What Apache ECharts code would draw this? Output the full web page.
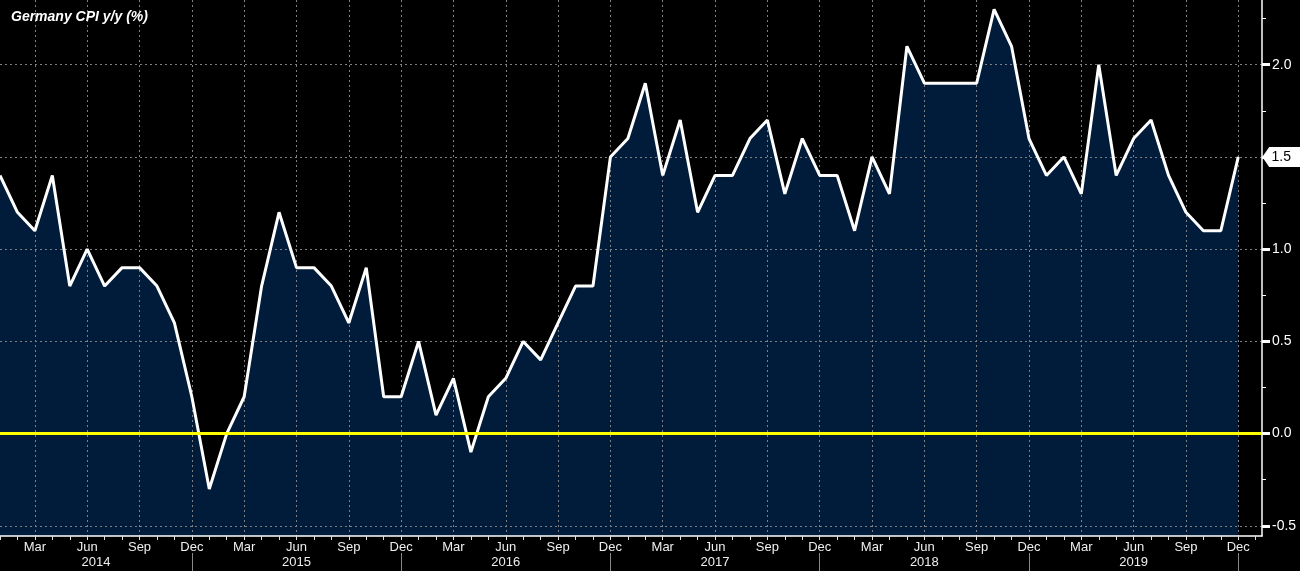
<!DOCTYPE html>
<html>
<head>
<meta charset="utf-8">
<script src="https://cdn.jsdelivr.net/npm/echarts@6/dist/echarts.min.js"></script>
<style>
  html, body { margin: 0; padding: 0; background: #000; }
  #chart { width: 1300px; height: 571px; }
</style>
</head>
<body>
<div id="chart"></div>
<script>
// monthly Germany CPI y/y (%), Jan..Dec for each year
const cpi2014 = [1.4, 1.2, 1.1, 1.4, 0.8, 1.0, 0.8, 0.9, 0.9, 0.8, 0.6, 0.2];
const cpi2015 = [-0.3, 0.0, 0.2, 0.8, 1.2, 0.9, 0.9, 0.8, 0.6, 0.9, 0.2, 0.2];
const cpi2016 = [0.5, 0.1, 0.3, -0.1, 0.2, 0.3, 0.5, 0.4, 0.6, 0.8, 0.8, 1.5];
const cpi2017 = [1.6, 1.9, 1.4, 1.7, 1.2, 1.4, 1.4, 1.6, 1.7, 1.3, 1.6, 1.4];
const cpi2018 = [1.4, 1.1, 1.5, 1.3, 2.1, 1.9, 1.9, 1.9, 1.9, 2.3, 2.1, 1.6];
const cpi2019 = [1.4, 1.5, 1.3, 2.0, 1.4, 1.6, 1.7, 1.4, 1.2, 1.1, 1.1, 1.5];

const years = ['2014', '2015', '2016', '2017', '2018', '2019'];
const monthNames = ['Jan', 'Feb', 'Mar', 'Apr', 'May', 'Jun', 'Jul', 'Aug', 'Sep', 'Oct', 'Nov', 'Dec'];
const yTickValues = [-0.5, 0.0, 0.5, 1.0, 1.5, 2.0];
const yMinorTickValues = [-0.25, 0.25, 0.75, 1.25, 1.75, 2.25];

const cpi = [].concat(cpi2014, cpi2015, cpi2016, cpi2017, cpi2018, cpi2019);
// x = month number, Jan 2014 = 1
const points = cpi.map((v, i) => [i + 1, v]);
const lastValue = cpi[cpi.length - 1];

const monthTicks = [];
for (let m = 1; m <= 73; m++) monthTicks.push(m);
const quarterTicks = monthTicks.filter(m => m % 3 === 0 && m <= 72);
const yearEnds = years.map((y, i) => (i + 1) * 12);
const yearMids = years.map((y, i) => (i === 0 ? 6.5 : i * 12 + 6));

const font = 'Liberation Sans';
const xMin = 1;
const xMax = 73.36;
const gridLine = { show: true, lineStyle: { color: '#808080', width: 1, type: [2, 3] } };

const chart = echarts.init(document.getElementById('chart'));
chart.setOption({
  animation: false,
  backgroundColor: '#000',
  textStyle: { fontFamily: font },
  title: {
    text: 'Germany CPI y/y (%)',
    left: 6,
    top: 5,
    textStyle: { color: '#fff', fontSize: 14, fontStyle: 'italic', fontWeight: 'bold', fontFamily: font }
  },
  grid: { left: 0, right: 38, top: 0, bottom: 35 },
  xAxis: [
    {
      type: 'value', min: xMin, max: xMax, position: 'bottom', z: 2,
      axisLine: { show: true, onZero: false, lineStyle: { color: '#fff', width: 1.5 } },
      axisTick: { show: true, customValues: quarterTicks, length: 4, lineStyle: { color: '#ddd' } },
      axisLabel: {
        customValues: quarterTicks, color: '#eee', fontSize: 13, margin: 5,
        formatter: v => monthNames[(v - 1) % 12]
      },
      splitLine: gridLine
    },
    {
      type: 'value', min: xMin, max: xMax, position: 'bottom', z: 2,
      axisLine: { show: false, onZero: false },
      axisTick: { show: true, customValues: monthTicks, length: 4, lineStyle: { color: '#ddd' } },
      axisLabel: { show: false },
      splitLine: { show: false }
    },
    {
      type: 'value', min: xMin, max: xMax, position: 'bottom', offset: 17, z: 2,
      axisLine: { show: false, onZero: false },
      axisTick: { show: true, customValues: yearEnds, length: 20, lineStyle: { color: '#888' } },
      axisLabel: {
        customValues: yearMids, color: '#eee', fontSize: 13, margin: 3,
        formatter: v => years[Math.floor((v - 1) / 12)]
      },
      splitLine: { show: false }
    }
  ],
  yAxis: [
    {
      type: 'value', position: 'right', min: -0.555, max: 2.351, z: 2,
      axisLine: { show: true, onZero: false, lineStyle: { color: '#fff', width: 1.5 } },
      axisTick: { show: true, customValues: yTickValues, length: 8, lineStyle: { color: '#fff', width: 3 } },
      axisLabel: {
        customValues: yTickValues, color: '#fff', fontSize: 14, margin: 10,
        formatter: v => v.toFixed(1)
      },
      splitLine: gridLine
    },
    {
      type: 'value', position: 'right', min: -0.555, max: 2.351, z: 2,
      axisLine: { show: false, onZero: false },
      axisTick: { show: true, customValues: yMinorTickValues, length: 4, lineStyle: { color: '#fff' } },
      axisLabel: { show: false },
      splitLine: { show: false }
    }
  ],
  series: [
    {
      name: 'fill',
      type: 'line',
      z: 1,
      data: points,
      showSymbol: false,
      lineStyle: { width: 0 },
      areaStyle: { color: '#011c3a', opacity: 1, origin: 'start' }
    },
    {
      name: 'Germany CPI y/y',
      type: 'line',
      z: 3,
      data: points,
      showSymbol: false,
      lineStyle: { color: '#fff', width: 3 },
      markLine: {
        silent: true,
        symbol: ['none', 'none'],
        label: { show: false },
        lineStyle: { color: '#ffff00', width: 3, type: 'solid' },
        data: [{ yAxis: 0 }]
      },
      markPoint: {
        symbol: 'path://M0,10 L8,0 L44,0 L44,20 L8,20 Z',
        symbolSize: [38, 20],
        symbolOffset: [43, 0],
        itemStyle: { color: '#fff' },
        label: { show: true, color: '#000', fontSize: 14, fontFamily: font, formatter: p => p.value.toFixed(1) },
        data: [{ coord: [points.length, lastValue], value: lastValue }]
      }
    }
  ]
});
</script>
</body>
</html>
